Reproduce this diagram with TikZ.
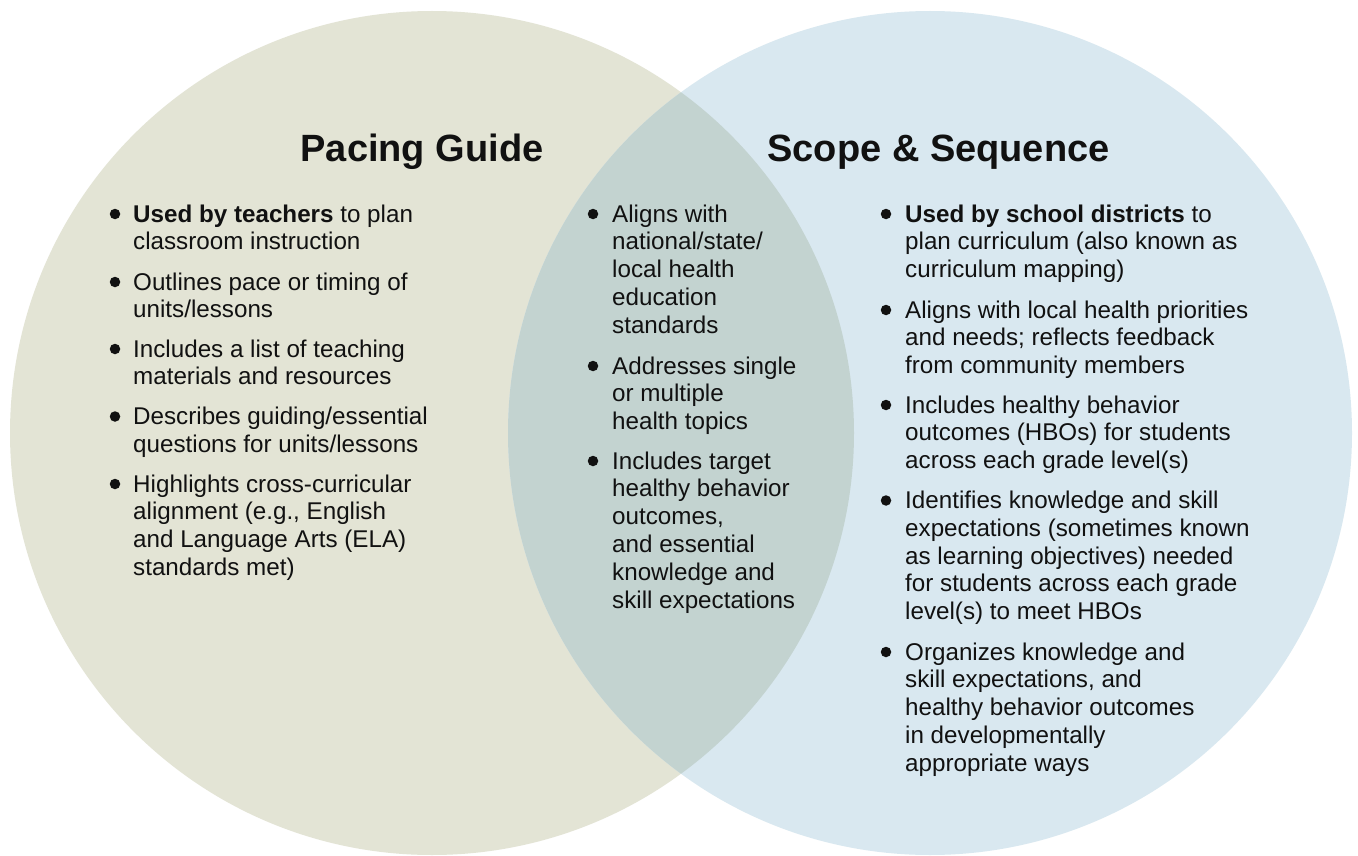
\documentclass[tikz,border=0pt]{standalone}
\usepackage{fontspec}
\setmainfont{Liberation Sans}
\definecolor{leftc}{HTML}{E3E4D5}
\definecolor{rightc}{HTML}{D9E8F0}
\definecolor{midc}{HTML}{C3D3D0}
\definecolor{ink}{HTML}{111111}
\begin{document}
\begin{tikzpicture}[x=1pt,y=-1pt,
  itemtext/.style={anchor=base west,inner sep=0pt,align=left,text=ink,font=\fontsize{24.2}{27.8}\selectfont},
  titletext/.style={anchor=base,inner sep=0pt,text=ink,font=\fontsize{38}{44}\selectfont\bfseries},
  dotmark/.style={fill=ink,circle,inner sep=0pt,minimum size=10.5pt}]
\useasboundingbox (0,0) rectangle (1358,856);
\fill[white] (0,0) rectangle (1358,856);
\fill[leftc] (432,433) circle[radius=422];
\fill[rightc] (930,433) circle[radius=422];
\begin{scope}
\clip (432,433) circle[radius=422];
\fill[midc] (930,433) circle[radius=422];
\end{scope}
% titles
\node[titletext] (t1) at (422,162) {Pacing Guide};
\node[titletext] (t2) at (938.5,162) {Scope \& Sequence};
% left
\foreach \n/\y/\k/\t in {
 l1/214/2/{\textbf{Used by teachers} to plan\\classroom instruction},
 l2/282/2/{Outlines pace or timing of\\units/lessons},
 l3/349/2/{Includes a list of teaching\\materials and resources},
 l4/416.5/2/{Describes guiding/essential\\questions for units/lessons},
 l5/484/4/{Highlights cross-curricular\\alignment (e.g., English\\and Language Arts (ELA)\\standards met)}}{
 \node[dotmark] (\n b) at (115,\y) {};
 \node[itemtext] (\n) at (133,\y+8+27.8*\k-27.8) {\t};
}
% middle
\foreach \n/\y/\k/\t in {
 m1/214/5/{Aligns with\\national/state/\\local health\\education\\standards},
 m2/366/3/{Addresses single\\or multiple\\health topics},
 m3/461/6/{Includes target\\healthy behavior\\outcomes,\\and essential\\knowledge and\\skill expectations}}{
 \node[dotmark] (\n b) at (593,\y) {};
 \node[itemtext] (\n) at (612,\y+8+27.8*\k-27.8) {\t};
}
% right
\foreach \n/\y/\k/\t in {
 r1/214/3/{\textbf{Used by school districts} to\\plan curriculum (also known as\\curriculum mapping)},
 r2/310/3/{Aligns with local health priorities\\and needs; reflects feedback\\from community members},
 r3/405/3/{Includes healthy behavior\\outcomes (HBOs) for students\\across each grade level(s)},
 r4/500.5/5/{Identifies knowledge and skill\\expectations (sometimes known\\as learning objectives) needed\\for students across each grade\\level(s) to meet HBOs},
 r5/652/5/{Organizes knowledge and\\skill expectations, and\\healthy behavior outcomes\\in developmentally\\appropriate ways}}{
 \node[dotmark] (\n b) at (886,\y) {};
 \node[itemtext] (\n) at (905,\y+8+27.8*\k-27.8) {\t};
}
\end{tikzpicture}
\end{document}
